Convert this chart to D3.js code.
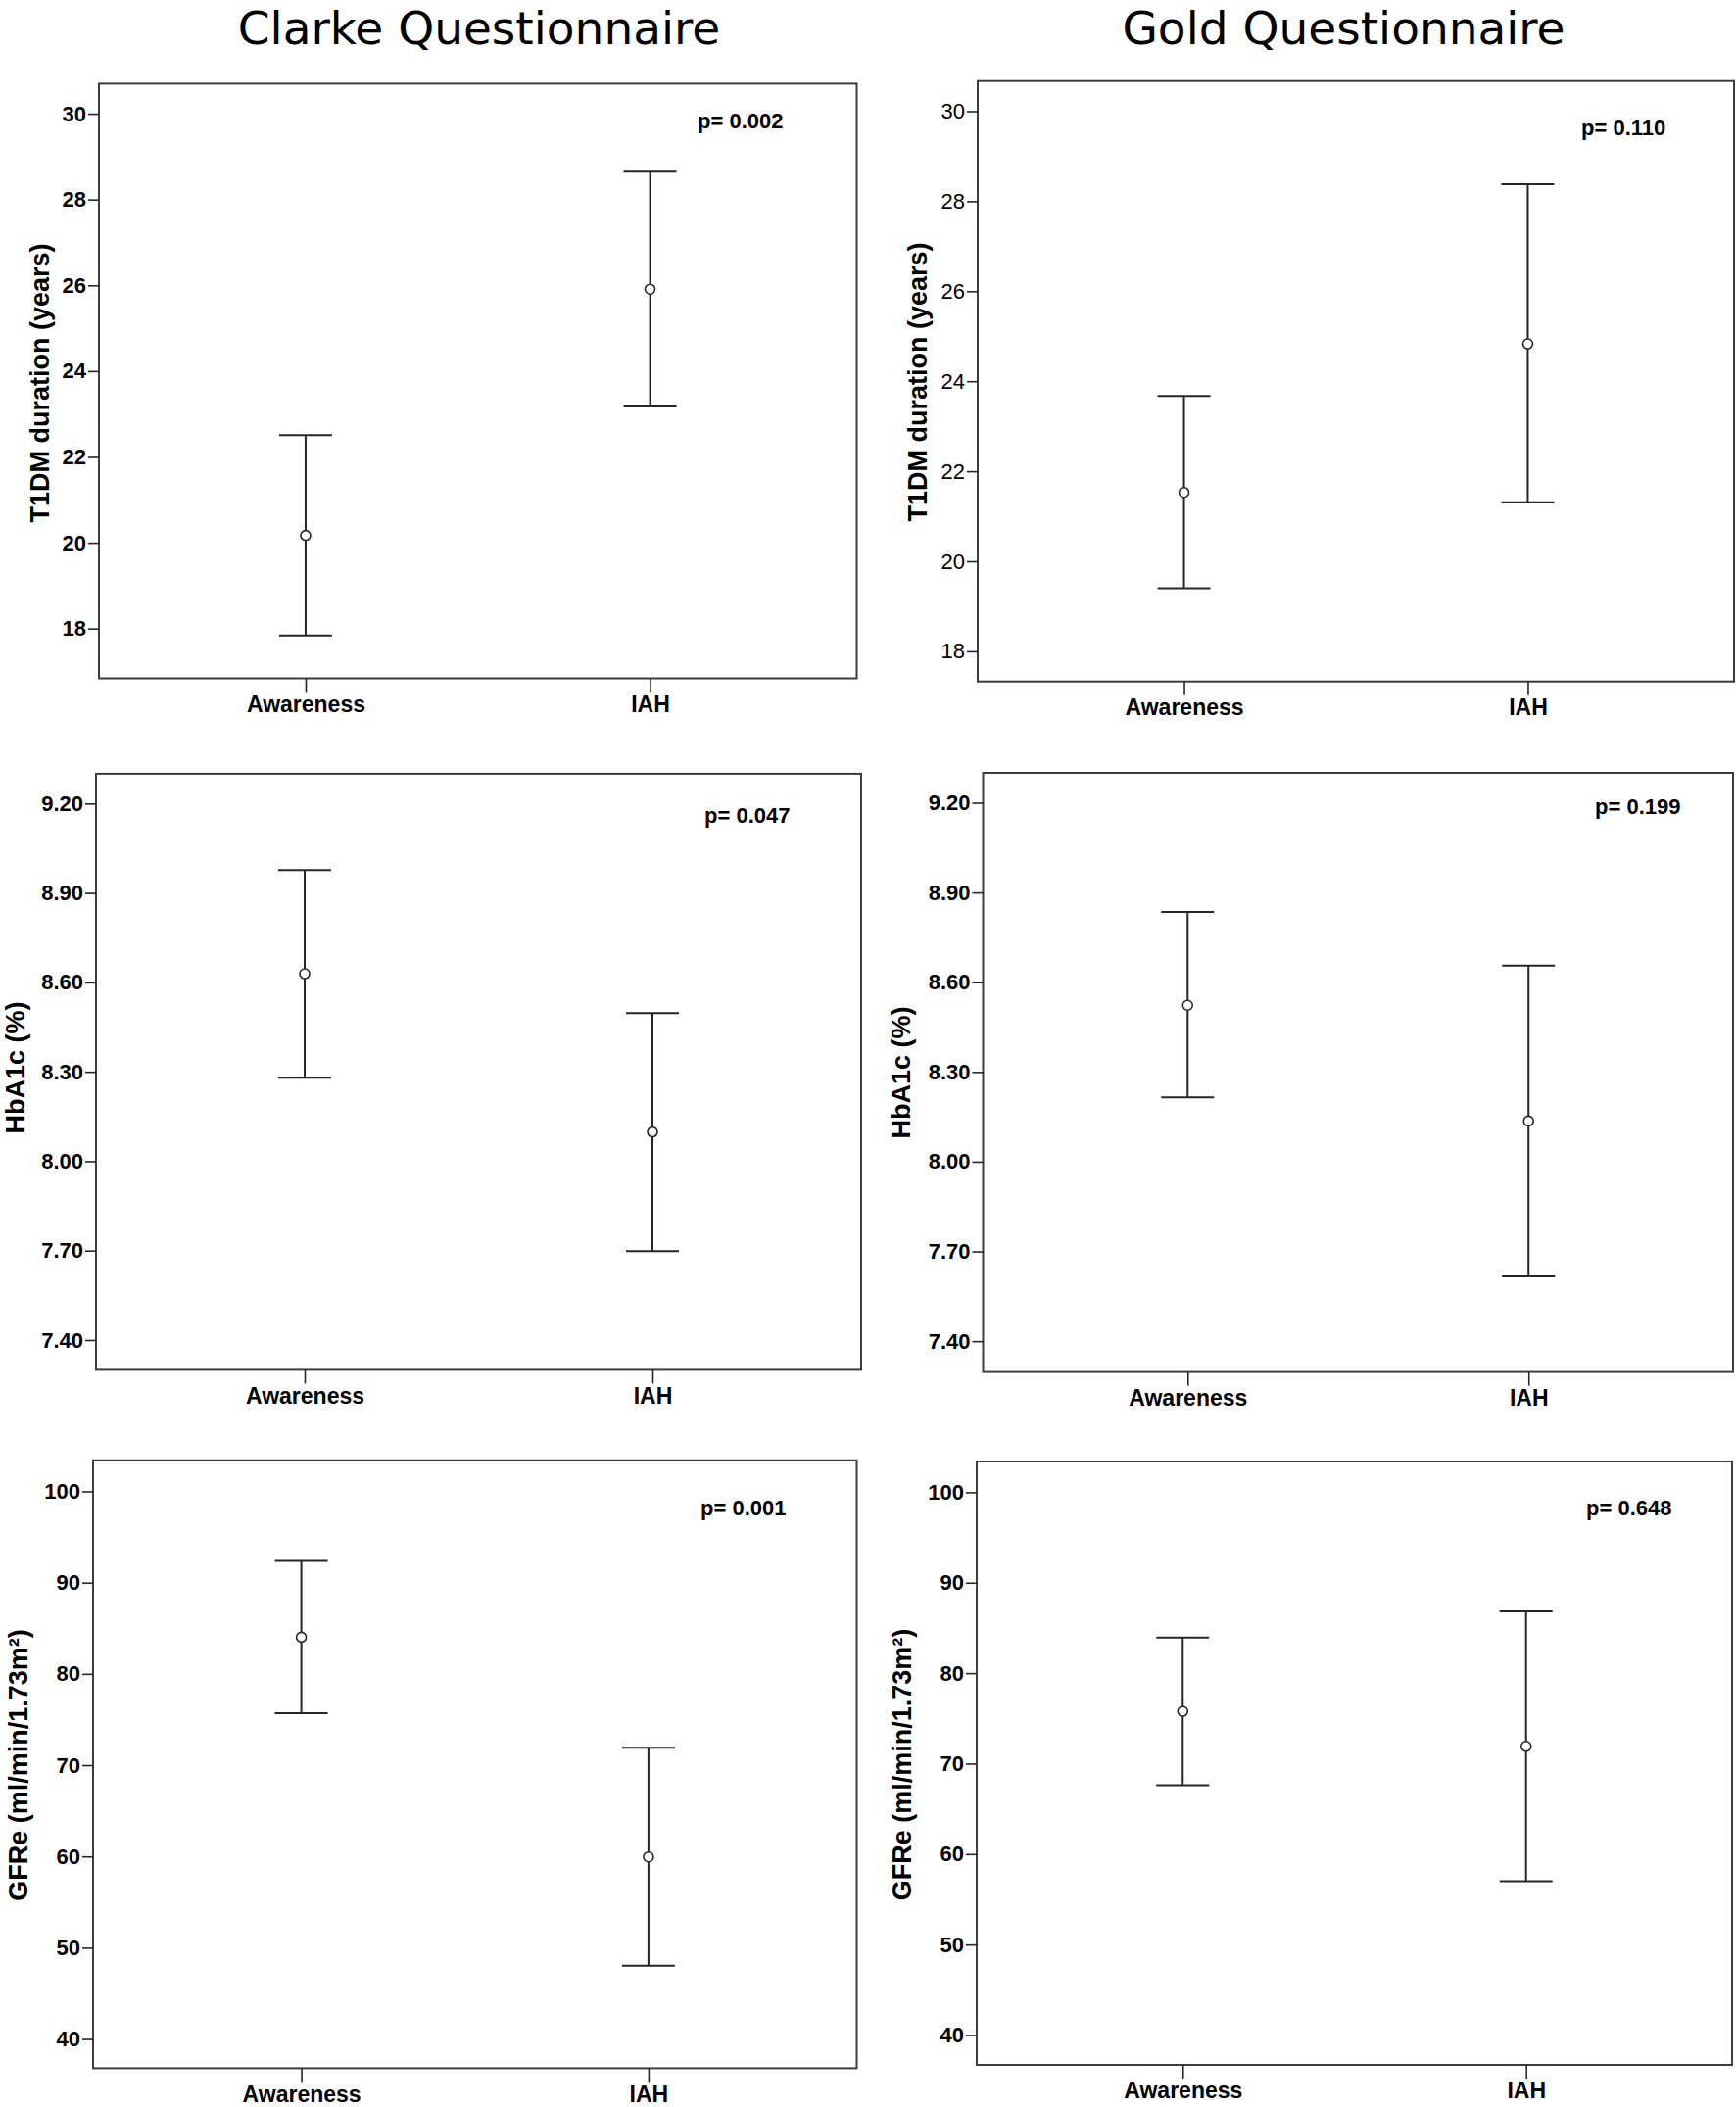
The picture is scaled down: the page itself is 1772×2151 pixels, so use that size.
<!DOCTYPE html>
<html>
<head>
<meta charset="utf-8">
<script src="https://cdn.jsdelivr.net/npm/d3@7"></script>
<style>
  html, body { margin: 0; padding: 0; background: #fff; }
  svg { display: block; }
</style>
</head>
<body>
<svg id="chart" width="1772" height="2151"></svg>
<script>
// ---------------- DATA ----------------
const categories = ["Awareness", "IAH"];
const questionnaires = ["Clarke Questionnaire", "Gold Questionnaire"];
const measures = ["T1DM duration (years)", "HbA1c (%)", "GFRe (ml/min/1.73m²)"];

// rows = measures, columns = categories
const clarkeMean  = [[20.17, 25.91], [8.629, 8.098], [84.02, 59.95]];
const clarkeLower = [[17.84, 23.20], [8.280, 7.698], [75.70, 48.04]];
const clarkeUpper = [[22.51, 28.65], [8.977, 8.497], [92.39, 71.91]];

const goldMean  = [[21.53, 24.83], [8.523, 8.136], [75.78, 71.91]];
const goldLower = [[19.40, 21.31], [8.215, 7.617], [67.62, 56.99]];
const goldUpper = [[23.67, 28.38], [8.835, 8.656], [83.93, 86.84]];

const clarkeP = ["p= 0.002", "p= 0.047", "p= 0.001"];
const goldP   = ["p= 0.110", "p= 0.199", "p= 0.648"];

const tickValues = [
  [18, 20, 22, 24, 26, 28, 30],
  [7.40, 7.70, 8.00, 8.30, 8.60, 8.90, 9.20],
  [40, 50, 60, 70, 80, 90, 100]
];
const tickFormats = ["d", ".2f", "d"];
const clarkeDomains = [[16.84, 30.70], [7.30, 9.30], [36.8, 103.4]];
const goldDomains   = [[17.33, 30.67], [7.297, 9.30], [36.7, 103.4]];

// ---------------- LAYOUT ----------------
// frame boxes [left, top, right, bottom] for each panel (row, col)
const frames = [
  [[101, 85.4, 874.5, 692.5], [998, 82.7, 1770, 695.7]],
  [[98, 789.9, 879, 1398.4], [1003.5, 789, 1769, 1400.6]],
  [[95, 1490.8, 874.5, 2111.4], [997, 1492, 1768, 2108]]
];
const yTitlePos = [
  [[41, 391], [937, 390]],
  [[16, 1090], [920, 1095]],
  [[19, 1802], [921, 1801.5]]
];
const pPos = [
  [[712, 131], [1614, 138]],
  [[719, 840], [1628, 831]],
  [[715, 1547], [1619, 1547]]
];
const titleX = [489, 1371.5];

const ink = "#262626";
const svg = d3.select("#chart");

// column titles
svg.selectAll("text.coltitle")
  .data(questionnaires)
  .join("text")
  .attr("class", "coltitle")
  .attr("x", (d, i) => titleX[i])
  .attr("y", 44.5)
  .attr("text-anchor", "middle")
  .attr("font-family", "DejaVu Sans")
  .attr("font-size", 47)
  .attr("fill", "#000")
  .text(d => d);

const series = [
  { mean: clarkeMean, lower: clarkeLower, upper: clarkeUpper, p: clarkeP, dom: clarkeDomains },
  { mean: goldMean, lower: goldLower, upper: goldUpper, p: goldP, dom: goldDomains }
];

for (let r = 0; r < 3; r++) {
  for (let c = 0; c < 2; c++) {
    const s = series[c];
    const [L, T, R, B] = frames[r][c];
    const g = svg.append("g");

    const x = d3.scalePoint().domain(categories).range([L, R]).padding(0.6);
    const y = d3.scaleLinear().domain(s.dom[r]).range([B, T]);

    // frame
    g.append("rect")
      .attr("x", L).attr("y", T)
      .attr("width", R - L).attr("height", B - T)
      .attr("fill", "none")
      .attr("stroke", "#3c3c3c")
      .attr("stroke-width", 2);

    // y axis
    const tickWeight = (r === 0 && c === 1) ? "normal" : "bold";
    const yAxis = g.append("g")
      .attr("transform", `translate(${L},0)`)
      .call(d3.axisLeft(y).tickValues(tickValues[r]).tickFormat(d3.format(tickFormats[r])).tickSize(11).tickPadding(2));
    yAxis.select(".domain").remove();
    yAxis.selectAll("line").attr("stroke", ink).attr("stroke-width", 1.6);
    yAxis.selectAll("text")
      .attr("font-family", "Liberation Sans, Arial, sans-serif")
      .attr("font-size", 22)
      .attr("font-weight", tickWeight)
      .attr("fill", "#000");

    // x axis
    const xAxis = g.append("g")
      .attr("transform", `translate(0,${B})`)
      .call(d3.axisBottom(x).tickSize(14).tickPadding(4));
    xAxis.select(".domain").remove();
    xAxis.selectAll("line").attr("stroke", ink).attr("stroke-width", 1.6);
    xAxis.selectAll("text")
      .attr("font-family", "Liberation Sans, Arial, sans-serif")
      .attr("font-size", 23)
      .attr("font-weight", "bold")
      .attr("fill", "#000");

    // y title
    const [tx, ty] = yTitlePos[r][c];
    g.append("text")
      .attr("transform", `translate(${tx},${ty}) rotate(-90)`)
      .attr("text-anchor", "middle")
      .attr("dy", "0.35em")
      .attr("font-family", "Liberation Sans, Arial, sans-serif")
      .attr("font-size", 27)
      .attr("font-weight", "bold")
      .attr("fill", "#000")
      .text(measures[r]);

    // p value
    const [px, py] = pPos[r][c];
    g.append("text")
      .attr("x", px).attr("y", py)
      .attr("font-family", "Liberation Sans, Arial, sans-serif")
      .attr("font-size", 22)
      .attr("font-weight", "bold")
      .attr("fill", "#000")
      .text(s.p[r]);

    // error bars
    const rows = categories.map((cat, i) => ({
      cat, mean: s.mean[r][i], lo: s.lower[r][i], hi: s.upper[r][i]
    }));
    const capHalf = 27;
    const bars = g.selectAll("g.bar").data(rows).join("g").attr("class", "bar");
    bars.append("line")
      .attr("x1", d => x(d.cat)).attr("x2", d => x(d.cat))
      .attr("y1", d => y(d.hi)).attr("y2", d => y(d.lo))
      .attr("stroke", ink).attr("stroke-width", 2);
    bars.append("line")
      .attr("x1", d => x(d.cat) - capHalf).attr("x2", d => x(d.cat) + capHalf)
      .attr("y1", d => y(d.hi)).attr("y2", d => y(d.hi))
      .attr("stroke", ink).attr("stroke-width", 2);
    bars.append("line")
      .attr("x1", d => x(d.cat) - capHalf).attr("x2", d => x(d.cat) + capHalf)
      .attr("y1", d => y(d.lo)).attr("y2", d => y(d.lo))
      .attr("stroke", ink).attr("stroke-width", 2);
    bars.append("circle")
      .attr("cx", d => x(d.cat)).attr("cy", d => y(d.mean))
      .attr("r", 5)
      .attr("fill", "#fff")
      .attr("stroke", ink).attr("stroke-width", 1.6);
  }
}
</script>
</body>
</html>
